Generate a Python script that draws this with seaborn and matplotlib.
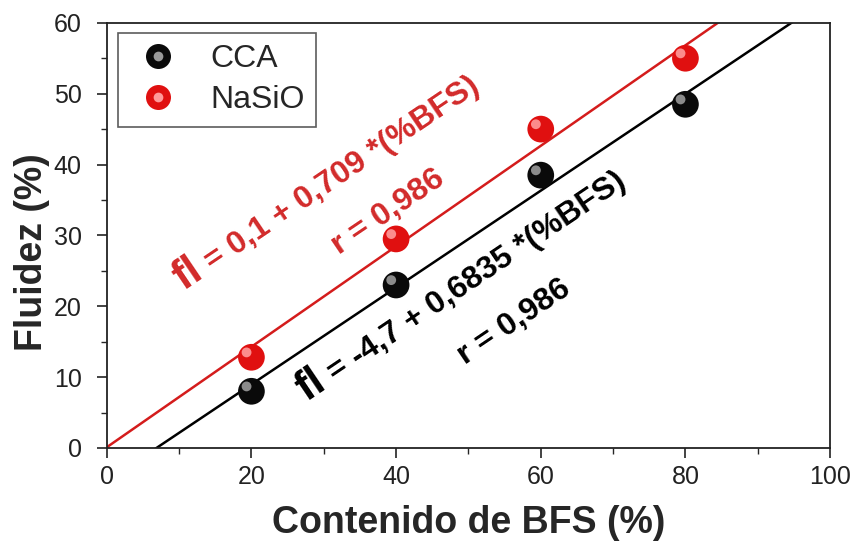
import numpy as np
import pandas as pd
import matplotlib
matplotlib.use("Agg")
import matplotlib.pyplot as plt
import matplotlib.transforms as mtransforms
from matplotlib.lines import Line2D
from matplotlib.legend_handler import HandlerTuple
import seaborn as sns

# Data
bfs = [20, 40, 60, 80]
cca = [8.0, 23.0, 38.5, 48.5]
nasio = [12.8, 29.5, 45.0, 55.0]
series_names = ["CCA", "NaSiO"]

# Linear fits (intercept, slope) as reported on the chart
cca_fit = (-4.7, 0.6835)
nasio_fit = (0.1, 0.709)
r_values = ["0,986", "0,986"]

xticks = [0, 20, 40, 60, 80, 100]
yticks = [0, 10, 20, 30, 40, 50, 60]

sns.set_theme(style="ticks")
plt.rcParams["font.family"] = ["Liberation Sans", "DejaVu Sans"]

RED = "#e01010"
RED_TXT = "#d22a2a"

fig = plt.figure(figsize=(8.54, 5.43), dpi=100)
ax = fig.add_axes([0.125, 0.175, 0.847, 0.783])

df = pd.DataFrame({
    "BFS": bfs * 2,
    "Fluidez": cca + nasio,
    "Serie": [series_names[0]] * 4 + [series_names[1]] * 4,
})

# Regression lines
xline = np.array([0.0, 100.0])
fits = pd.DataFrame({
    "BFS": np.concatenate([xline, xline]),
    "Fluidez": np.concatenate([cca_fit[0] + cca_fit[1] * xline,
                               nasio_fit[0] + nasio_fit[1] * xline]),
    "Serie": [series_names[0]] * 2 + [series_names[1]] * 2,
})
palette = {series_names[0]: "black", series_names[1]: "#d41c1c"}
sns.lineplot(data=fits, x="BFS", y="Fluidez", hue="Serie", palette=palette,
             lw=1.8, legend=False, ax=ax, zorder=2)

# Spherical markers: solid ball plus a soft highlight
ball = {series_names[0]: "#0a0a0a", series_names[1]: RED}
shine = {series_names[0]: "#9a9a9a", series_names[1]: "#ff9a9a"}
sns.scatterplot(data=df, x="BFS", y="Fluidez", hue="Serie", palette=ball,
                s=370, edgecolor="none", legend=False, ax=ax, zorder=3)
hl = ax.transData + mtransforms.ScaledTranslation(-3.5 / 72, 3.5 / 72, fig.dpi_scale_trans)
for name, vals in zip(series_names, [cca, nasio]):
    ax.scatter(bfs, vals, s=50, color=shine[name], edgecolor="none",
               alpha=0.9, transform=hl, zorder=4)

ax.set_xlim(0, 100)
ax.set_ylim(0, 60)
ax.set_xticks(xticks)
ax.set_yticks(yticks)
ax.set_xticks(np.arange(10, 100, 20), minor=True)
ax.set_yticks(np.arange(5, 60, 10), minor=True)
ax.tick_params(axis="both", which="major", direction="out", length=7, width=1.2,
               labelsize=18, colors="#222222", bottom=True, left=True)
ax.tick_params(axis="both", which="minor", direction="out", length=4, width=1.0,
               bottom=True, left=True)
ax.tick_params(axis="x", which="major", pad=5)
ax.tick_params(axis="y", which="major", pad=11)
for sp in ax.spines.values():
    sp.set_linewidth(1.3)
    sp.set_color("#222222")

ax.set_xlabel("Contenido de BFS (%)", fontsize=27, fontweight="bold")
ax.set_ylabel("Fluidez (%)", fontsize=27, fontweight="bold")
ax.xaxis.set_label_coords(0.5, -0.135)
ax.yaxis.set_label_coords(-0.078, 0.46)

# Equation annotations along the lines
ANG = 34
EQ_SIZE = 23


def equation(x, y, intercept, slope, color):
    sign = "-" if intercept < 0 else ""
    rest = f" = {sign}{abs(intercept):g} + {slope:g} *(%BFS)".replace(".", ",")
    ax.text(x, y, "fl", color=color, fontsize=31, fontweight="bold",
            rotation=ANG, rotation_mode="anchor", ha="right", va="baseline", zorder=5)
    ax.text(x, y, rest, color=color, fontsize=EQ_SIZE, fontweight="bold",
            rotation=ANG, rotation_mode="anchor", ha="left", va="baseline", zorder=5)


equation(13.6, 24.2, nasio_fit[0], nasio_fit[1], RED_TXT)
equation(30.6, 8.6, cca_fit[0], cca_fit[1], "black")
ax.text(32.2, 27.2, f"r = {r_values[1]}", color=RED_TXT, fontsize=EQ_SIZE,
        fontweight="bold", rotation=ANG, rotation_mode="anchor",
        ha="left", va="baseline", zorder=5)
ax.text(49.5, 11.8, f"r = {r_values[0]}", color="black", fontsize=EQ_SIZE,
        fontweight="bold", rotation=ANG, rotation_mode="anchor",
        ha="left", va="baseline", zorder=5)

# Legend with the same shaded balls
handles = []
for name in series_names:
    h1 = Line2D([], [], ls="none", marker="o", ms=18, mfc=ball[name], mec="none")
    h2 = Line2D([], [], ls="none", marker="o", ms=7, mfc=shine[name], mec="none")
    handles.append((h1, h2))
leg = ax.legend(handles, series_names, handler_map={tuple: HandlerTuple(ndivide=1)},
                loc="upper left", bbox_to_anchor=(0.0152, 0.976), fontsize=23,
                frameon=True, fancybox=False, borderpad=0.35, handletextpad=0.75,
                labelspacing=0.35, handlelength=1.8, borderaxespad=0)
leg.get_frame().set_edgecolor("#333333")
leg.get_frame().set_linewidth(1.2)

fig.savefig("out.png", dpi=100)
